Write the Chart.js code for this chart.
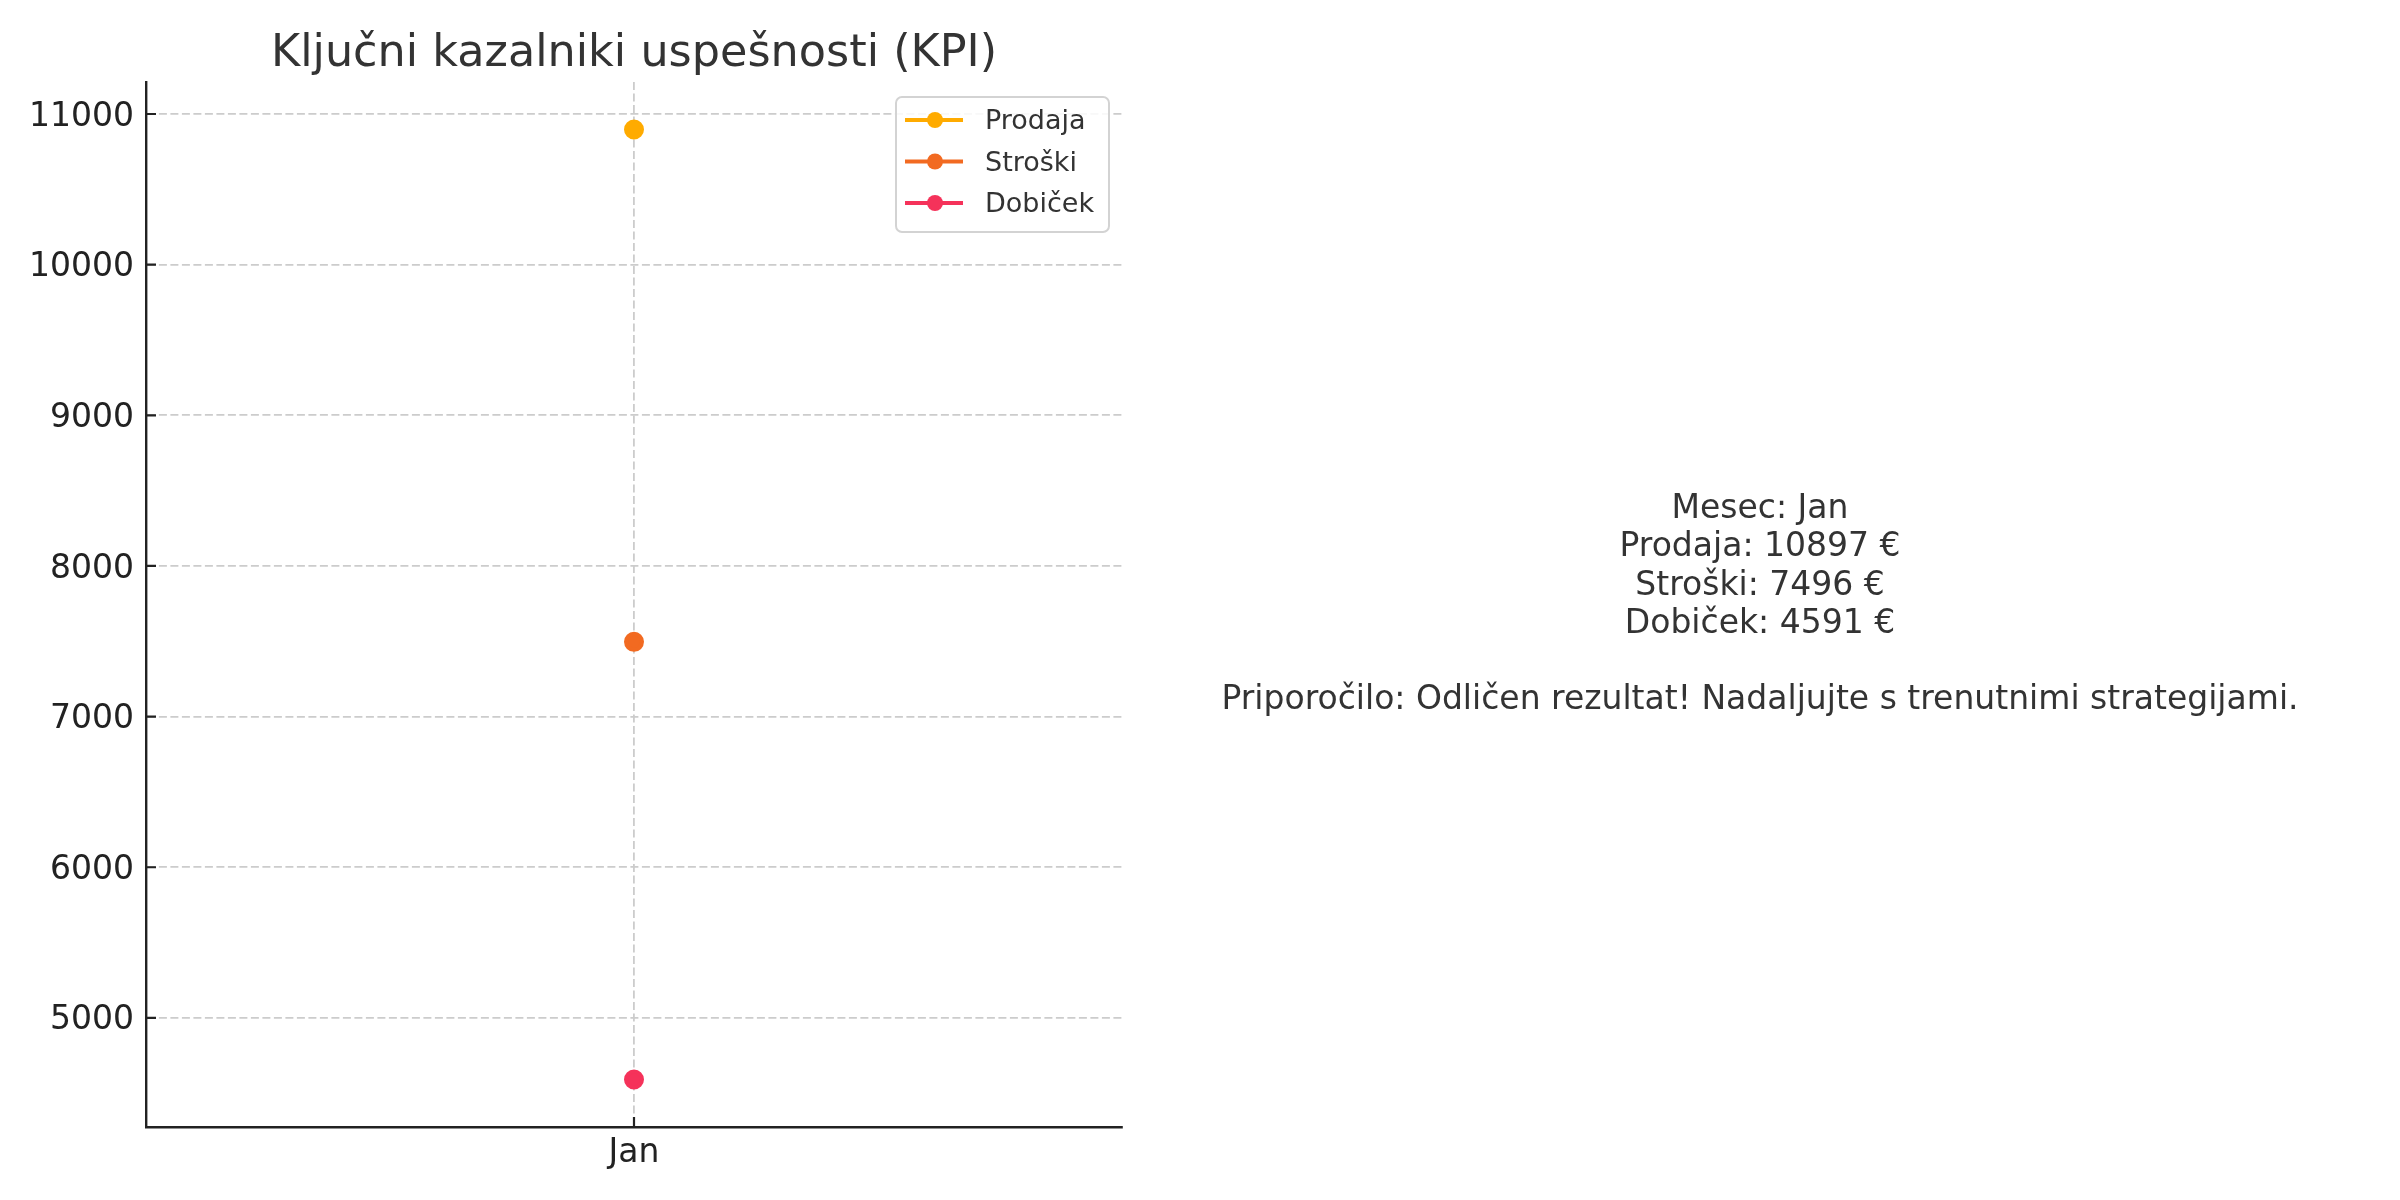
<!DOCTYPE html>
<html>
<head>
<meta charset="utf-8">
<script src="https://cdn.jsdelivr.net/npm/chart.js@4/dist/chart.umd.min.js"></script>
<style>
  html, body { margin: 0; padding: 0; background: #fff; }
  #wrap { position: relative; width: 2400px; height: 1200px; }
  #kpiText {
    position: absolute; left: 1160px; width: 1200px; top: 488px;
    text-align: center; white-space: pre-line;
    font-family: "DejaVu Sans", sans-serif; font-size: 33px; line-height: 38.3px;
    color: #333;
  }
</style>
</head>
<body>
<div id="wrap">
  <canvas id="kpiChart" width="2400" height="1200"></canvas>
  <div id="kpiText"></div>
</div>
<script>
// data
const months = ["Jan"];
const prodaja = [10897];
const stroski = [7496];
const dobicek = [4591];
const yTicks = [5000, 6000, 7000, 8000, 9000, 10000, 11000];

const seriesNames = ["Prodaja", "Stroški", "Dobiček"];
const seriesColors = ["#ffab00", "#f26a21", "#f5325a"];
const recommendation = "Priporočilo: Odličen rezultat! Nadaljujte s trenutnimi strategijami.";

// matplotlib-like 5% margins around the data
const allVals = [...prodaja, ...stroski, ...dobicek];
const lo = Math.min(...allVals), hi = Math.max(...allVals);
const pad = (hi - lo) * 0.05;

const FONT = "DejaVu Sans";
const gridDash = [8, 3.5];

// inward tick marks, like the original
const innerTicks = {
  id: "innerTicks",
  afterDraw(chart) {
    const { ctx, chartArea, scales } = chart;
    ctx.save();
    ctx.setLineDash([]);
    ctx.strokeStyle = "#222";
    ctx.lineWidth = 2.2;
    ctx.beginPath();
    scales.y.ticks.forEach((t, i) => {
      const y = scales.y.getPixelForTick(i);
      ctx.moveTo(chartArea.left, y);
      ctx.lineTo(chartArea.left + 10, y);
    });
    scales.x.ticks.forEach((t, i) => {
      const x = scales.x.getPixelForTick(i);
      ctx.moveTo(x, chartArea.bottom);
      ctx.lineTo(x, chartArea.bottom - 10);
    });
    ctx.stroke();
    ctx.restore();
  }
};

// legend box inside the plot, upper right
const innerLegend = {
  id: "innerLegend",
  afterDraw(chart) {
    const { ctx, chartArea } = chart;
    const boxW = 213, boxH = 135;
    const bx = chartArea.right - 13 - boxW;
    const by = chartArea.top + 15;
    ctx.save();
    ctx.setLineDash([]);
    ctx.fillStyle = "rgba(255,255,255,0.85)";
    ctx.strokeStyle = "#d3d3d3";
    ctx.lineWidth = 2;
    ctx.beginPath();
    ctx.roundRect(bx, by, boxW, boxH, 6);
    ctx.fill();
    ctx.stroke();
    ctx.font = `27px "${FONT}"`;
    ctx.textBaseline = "middle";
    chart.data.datasets.forEach((ds, i) => {
      const y = by + 23 + i * 41.5;
      ctx.strokeStyle = ds.borderColor;
      ctx.lineWidth = 4;
      ctx.beginPath();
      ctx.moveTo(bx + 9, y);
      ctx.lineTo(bx + 67, y);
      ctx.stroke();
      ctx.fillStyle = ds.backgroundColor;
      ctx.beginPath();
      ctx.arc(bx + 39, y, 8, 0, Math.PI * 2);
      ctx.fill();
      ctx.fillStyle = "#333";
      ctx.fillText(ds.label, bx + 89, y + 2);
    });
    ctx.restore();
  }
};

const values = [prodaja, stroski, dobicek];
const ctx = document.getElementById("kpiChart");
new Chart(ctx, {
  type: "line",
  data: {
    labels: months,
    datasets: values.map((v, i) => ({
      label: seriesNames[i],
      data: v,
      borderColor: seriesColors[i],
      backgroundColor: seriesColors[i],
      borderWidth: 4,
      pointRadius: 8,
      pointHoverRadius: 8
    }))
  },
  options: {
    responsive: false,
    animation: false,
    events: [],
    layout: { padding: { left: 0, right: 1278, top: 0, bottom: 0 } },
    scales: {
      x: {
        offset: true,
        grid: { offset: false, color: "#cccccc", lineWidth: 1.8, drawTicks: false },
        border: { display: true, color: "#222", width: 2.4, dash: gridDash },
        ticks: { color: "#222", padding: 7, font: { family: FONT, size: 33 } },
        afterFit: (s) => { s.height = 73; }
      },
      y: {
        min: lo - pad,
        max: hi + pad,
        afterBuildTicks: (s) => { s.ticks = yTicks.map(v => ({ value: v })); },
        grid: { color: "#cccccc", lineWidth: 1.8, drawTicks: false },
        border: { display: true, color: "#222", width: 2.4, dash: gridDash },
        ticks: {
          color: "#222", padding: 12, labelOffset: 3, font: { family: FONT, size: 33 },
          callback: (v) => String(v)
        },
        afterFit: (s) => { s.width = 146; }
      }
    },
    plugins: {
      legend: { display: false },
      tooltip: { enabled: false },
      title: {
        display: true,
        fullSize: false,
        text: "Ključni kazalniki uspešnosti (KPI)",
        color: "#333",
        font: { family: FONT, size: 44.5, weight: "normal", lineHeight: 1.2 },
        padding: { top: 28, bottom: 0.6 }
      }
    }
  },
  plugins: [innerTicks, innerLegend]
});

document.getElementById("kpiText").textContent =
  `Mesec: ${months[0]}\nProdaja: ${prodaja[0]} €\nStroški: ${stroski[0]} €\nDobiček: ${dobicek[0]} €\n\n${recommendation}`;
</script>
</body>
</html>
